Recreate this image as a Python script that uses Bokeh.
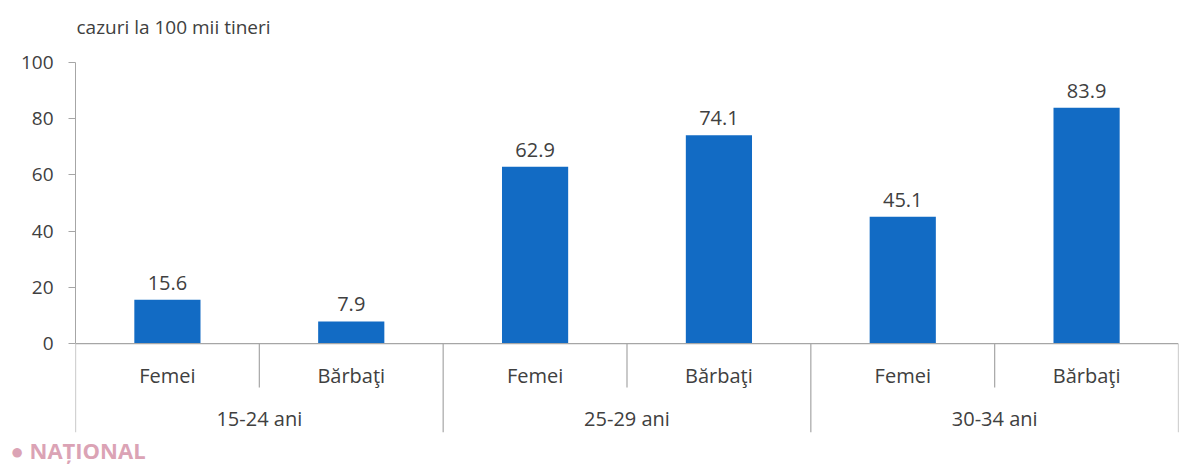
from bokeh.plotting import figure
from bokeh.models import FactorRange, ColumnDataSource, FixedTicker, Range1d, Title
from bokeh.core.properties import value
from bokeh.embed import file_html
from bokeh.resources import INLINE

groups = ["15-24 ani", "25-29 ani", "30-34 ani"]
sexes = ["Femei", "Bărbaţi"]
values = [15.6, 7.9, 62.9, 74.1, 45.1, 83.9]
y_ticks = [0, 20, 40, 60, 80, 100]
title_text = "cazuri la 100 mii tineri"

FONT = "Open Sans"
TXT = "#404040"
GRID = "#a6a6a6"
BAR = "#126bc4"

factors = [(g, s) for g in groups for s in sexes]
labels = [f"{v:.1f}" for v in values]

x_range = FactorRange(*factors, factor_padding=0, group_padding=0, range_padding=0)
p = figure(x_range=x_range, y_range=Range1d(-31.6, 122), title=None,
           width=1184, height=464, output_backend="svg", toolbar_location=None,
           min_border_left=75, min_border_right=6, min_border_top=0, min_border_bottom=0)
p.outline_line_color = None
p.background_fill_color = "white"
p.border_fill_color = "white"
p.xgrid.visible = False
p.ygrid.visible = False
p.xaxis.visible = False

ya = p.yaxis[0]
ya.ticker = FixedTicker(ticks=y_ticks)
ya.bounds = (0, 100)
ya.axis_line_color = GRID
ya.major_tick_line_color = GRID
ya.major_tick_in = 0
ya.major_tick_out = 7
ya.minor_tick_line_color = None
ya.major_label_text_font = FONT
ya.major_label_text_font_size = "19px"
ya.major_label_text_color = TXT
ya.major_label_standoff = 15

src = ColumnDataSource(dict(x=factors, top=values, lab=labels,
                            sex=[f[1] for f in factors]))
p.vbar(x="x", top="top", bottom=0, width=0.36, source=src,
       fill_color=BAR, line_color=None)

p.text(x="x", y="top", text="lab", source=src, y_offset=-10,
       text_align="center", text_baseline="bottom",
       text_font=value(FONT), text_font_size="20px", text_color=TXT)

# category labels
p.text(x="x", y=-11.3, text="sex", source=src,
       text_align="center", text_baseline="middle",
       text_font=value(FONT), text_font_size="20px", text_color=TXT)
gsrc = ColumnDataSource(dict(x=groups, t=groups))
p.text(x="x", y=-26.6, text="t", source=gsrc,
       text_align="center", text_baseline="middle",
       text_font=value(FONT), text_font_size="20px", text_color=TXT)

# baseline and separators
n = len(factors)
p.segment(x0=[0], y0=[0], x1=[n], y1=[0], line_color=GRID, line_width=1.3)
inner = [i for i in range(1, n) if i % 2 == 1]
outer = [i for i in range(0, n + 1) if i % 2 == 0]
p.segment(x0=inner, y0=[0] * len(inner), x1=inner, y1=[-15.6] * len(inner),
          line_color=GRID, line_width=1.2)
p.segment(x0=outer, y0=[0] * len(outer), x1=outer, y1=[-31.6] * len(outer),
          line_color=GRID, line_width=1.2)

# chart title (unit note) placed above the top tick
p.text(x=[0], y=[y_ticks[-1]], text=[title_text], x_offset=1, y_offset=-35,
       text_align="left", text_baseline="middle",
       text_font=value(FONT), text_font_size="19px", text_color=TXT)

# watermark
p.add_layout(Title(text="● NAȚIONAL", text_font=FONT, text_font_size="22px",
                   text_color="#dba3b5", text_font_style="bold", align="left",
                   offset=-65, standoff=0), "below")

open("out.html", "w").write(file_html(p, INLINE))
